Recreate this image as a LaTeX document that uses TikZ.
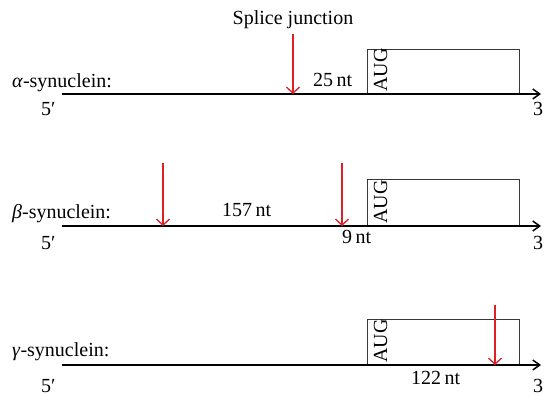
\documentclass[tikz,border=0pt]{standalone}
\usepackage{fontspec}
\setmainfont{Liberation Serif}
\usetikzlibrary{arrows.meta}
\definecolor{arrred}{RGB}{222,32,38}
\definecolor{boxgray}{RGB}{55,55,55}
\tikzset{
  txt/.style={inner sep=0pt, font=\fontsize{20}{24}\selectfont},
  mrna/.style={black, line width=1.5pt, -{Straight Barb[length=7pt,width=10pt]}},
  orf/.style={draw=boxgray, line width=1pt},
  junction/.style={arrred, line width=1.3pt, -{Straight Barb[length=6pt,width=13pt]}},
}
\begin{document}
\begin{tikzpicture}[x=1pt,y=-1pt]
\useasboundingbox (0,0) rectangle (544,396);
\clip (0,0) rectangle (544,396);

% ---------- alpha ----------
\coordinate (a5) at (62,94);
\coordinate (a3) at (541,94);
\draw[orf] (367,94) -- (367,50) -- (519,50) -- (519,94);
\node[txt, rotate=90, anchor=base west] (aaug) at (387,92) {AUG};
\draw[mrna] (a5) -- (a3);
\node[txt, anchor=base] (splice) at (293,25) {Splice junction};
\coordinate (aj1top) at (293,34);
\coordinate (aj1) at (293,94);
\draw[junction] (aj1top) -- (aj1);
\node[txt, anchor=base west] (a25) at (313,87) {25\,nt};
\node[txt, anchor=base west] (alab) at (12,88) {\textit{α}-synuclein:};
\node[txt, anchor=base west] (a5l) at (41,115) {5′};
\node[txt, anchor=base west] (a3l) at (533,115) {3′};

% ---------- beta ----------
\coordinate (b5) at (62,226);
\coordinate (b3) at (541,226);
\draw[orf] (367,226) -- (367,179) -- (519,179) -- (519,226);
\node[txt, rotate=90, anchor=base west] (baug) at (387,224) {AUG};
\draw[mrna] (b5) -- (b3);
\coordinate (bj1top) at (163,163);
\coordinate (bj1) at (163,226);
\coordinate (bj2top) at (342,163);
\coordinate (bj2) at (342,226);
\draw[junction] (bj1top) -- (bj1);
\draw[junction] (bj2top) -- (bj2);
\node[txt, anchor=base west] (b157) at (222,216) {157\,nt};
\node[txt, anchor=base west] (b9) at (342,243) {9\,nt};
\node[txt, anchor=base west] (blab) at (12,218) {\textit{β}-synuclein:};
\node[txt, anchor=base west] (b5l) at (41,249) {5′};
\node[txt, anchor=base west] (b3l) at (533,249) {3′};

% ---------- gamma ----------
\coordinate (g5) at (62,365);
\coordinate (g3) at (541,365);
\draw[orf] (367,365) -- (367,319) -- (519,319) -- (519,365);
\node[txt, rotate=90, anchor=base west] (gaug) at (387,363) {AUG};
\draw[mrna] (g5) -- (g3);
\coordinate (gj1top) at (495,305);
\coordinate (gj1) at (495,365);
\draw[junction] (gj1top) -- (gj1);
\node[txt, anchor=base west] (g122) at (411,384) {122\,nt};
\node[txt, anchor=base west] (glab) at (12,356) {\textit{γ}-synuclein:};
\node[txt, anchor=base west] (g5l) at (41,392) {5′};
\node[txt, anchor=base west] (g3l) at (533,392) {3′};
\end{tikzpicture}
\end{document}
